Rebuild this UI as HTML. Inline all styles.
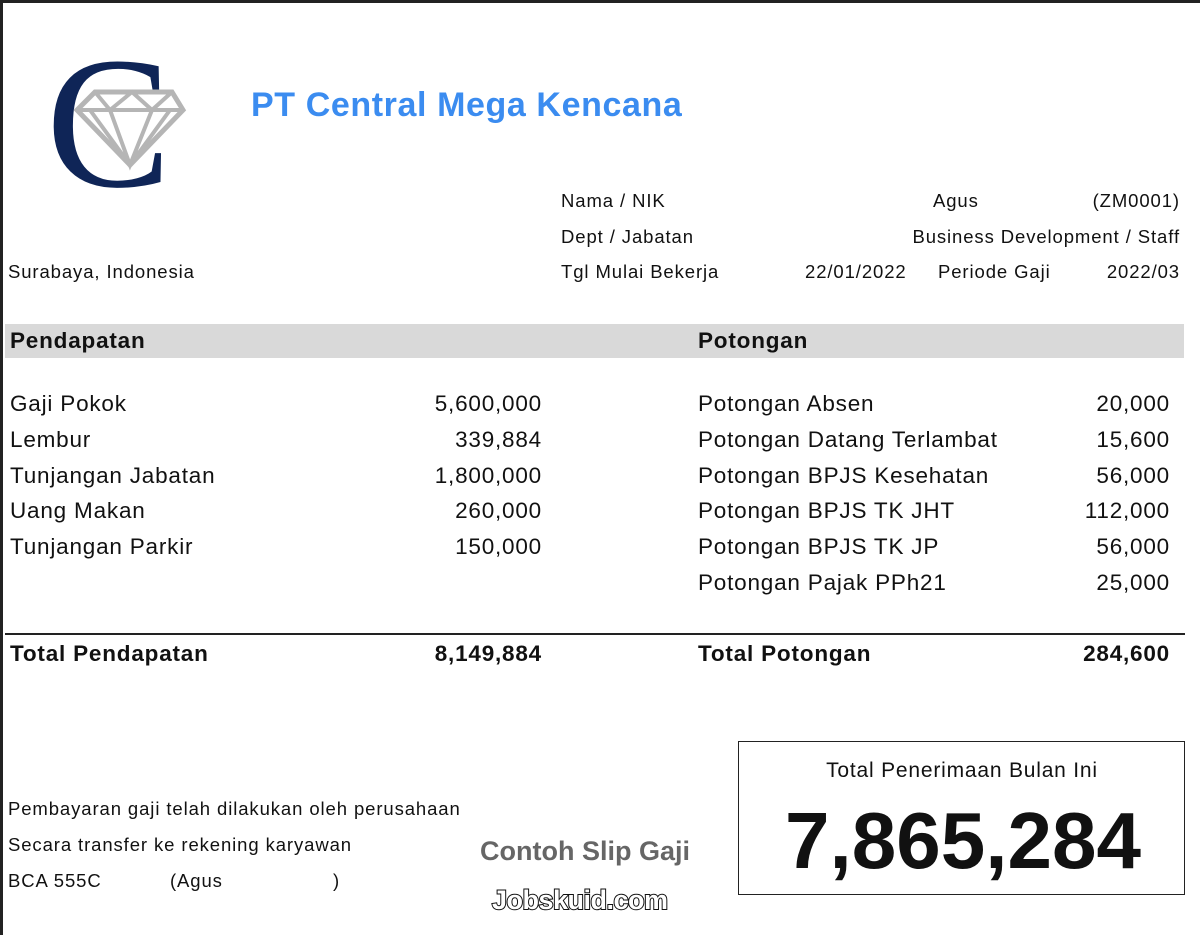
<!DOCTYPE html>
<html><head><meta charset="utf-8"><style>
body{margin:0;width:1200px;height:935px;background:#fff;position:relative;overflow:hidden;font-family:"Liberation Sans",sans-serif;color:#111}
.a{position:absolute;white-space:nowrap}
.s{font-size:18.5px;letter-spacing:0.9px}
.m{font-size:22.5px;letter-spacing:0.8px}
.r{text-align:right}
.b{font-weight:bold}
</style></head><body>
<div class="a" style="left:0;top:0;width:1200px;height:3px;background:#222"></div>
<div class="a" style="left:0;top:0;width:3px;height:935px;background:#222"></div>
<svg class="a" style="left:40px;top:40px" width="160" height="160" viewBox="40 40 160 160">
<text x="46" y="186" font-family="Liberation Serif" font-size="188" fill="#0f2557">C</text>
<polygon points="95,92 172,92 183,110 130,165 77,110" fill="#fff" stroke="#b5b5b5" stroke-width="5"/>
<path d="M77 110 H183 M95 92 L110 110 L132 92 L152 110 L172 92 M110 110 L130 165 L152 110 M90 110 L130 165 L170 110" stroke="#b5b5b5" stroke-width="4" fill="none"/>
</svg>
<div class="a b" style="left:251px;top:86px;font-size:34px;color:#3b8cf0;letter-spacing:0.6px">PT Central Mega Kencana</div>
<div class="a s" style="left:8px;top:261px">Surabaya, Indonesia</div>
<div class="a s" style="left:561px;top:190px">Nama / NIK</div>
<div class="a s" style="left:561px;top:226px">Dept / Jabatan</div>
<div class="a s" style="left:561px;top:261px">Tgl Mulai Bekerja</div>
<div class="a s" style="left:933px;top:190px">Agus</div>
<div class="a s r" style="right:20px;top:190px">(ZM0001)</div>
<div class="a s r" style="right:20px;top:226px">Business Development / Staff</div>
<div class="a s" style="left:805px;top:261px">22/01/2022</div>
<div class="a s" style="left:938px;top:261px">Periode Gaji</div>
<div class="a s r" style="right:20px;top:261px">2022/03</div>
<div class="a" style="left:5px;top:324px;width:1179px;height:34px;background:#d9d9d9"></div>
<div class="a m b" style="left:10px;top:328px">Pendapatan</div>
<div class="a m b" style="left:698px;top:328px">Potongan</div>
<div class="a m" style="left:10px;top:386px;line-height:35.8px">Gaji Pokok<br>Lembur<br>Tunjangan Jabatan<br>Uang Makan<br>Tunjangan Parkir</div>
<div class="a m r" style="right:658px;top:386px;line-height:35.8px">5,600,000<br>339,884<br>1,800,000<br>260,000<br>150,000</div>
<div class="a m" style="left:698px;top:386px;line-height:35.8px">Potongan Absen<br>Potongan Datang Terlambat<br>Potongan BPJS Kesehatan<br>Potongan BPJS TK JHT<br>Potongan BPJS TK JP<br>Potongan Pajak PPh21</div>
<div class="a m r" style="right:30px;top:386px;line-height:35.8px">20,000<br>15,600<br>56,000<br>112,000<br>56,000<br>25,000</div>
<div class="a" style="left:5px;top:633px;width:1180px;height:2px;background:#222"></div>
<div class="a m b" style="left:10px;top:641px">Total Pendapatan</div>
<div class="a m b r" style="right:658px;top:641px">8,149,884</div>
<div class="a m b" style="left:698px;top:641px">Total Potongan</div>
<div class="a m b r" style="right:30px;top:641px">284,600</div>
<div class="a" style="left:738px;top:741px;width:445px;height:152px;border:1.5px solid #222"></div>
<div class="a" style="left:738px;top:759px;width:448px;text-align:center;font-size:21px;letter-spacing:0.8px">Total Penerimaan Bulan Ini</div>
<div class="a b" style="left:738px;top:795px;width:450px;text-align:center;font-size:80px">7,865,284</div>
<div class="a s" style="left:8px;top:798px">Pembayaran gaji telah dilakukan oleh perusahaan</div>
<div class="a s" style="left:8px;top:834px">Secara transfer ke rekening karyawan</div>
<div class="a s" style="left:8px;top:870px">BCA 555C</div>
<div class="a s" style="left:170px;top:870px">(Agus</div>
<div class="a s" style="left:333px;top:870px">)</div>
<div class="a b" style="left:480px;top:836px;font-size:27px;color:#666">Contoh Slip Gaji</div>
<div class="a b" style="left:492px;top:885px;font-size:27px;color:#fff;-webkit-text-stroke:2px #111;paint-order:stroke fill;letter-spacing:-0.5px">Jobskuid.com</div>
</body></html>
